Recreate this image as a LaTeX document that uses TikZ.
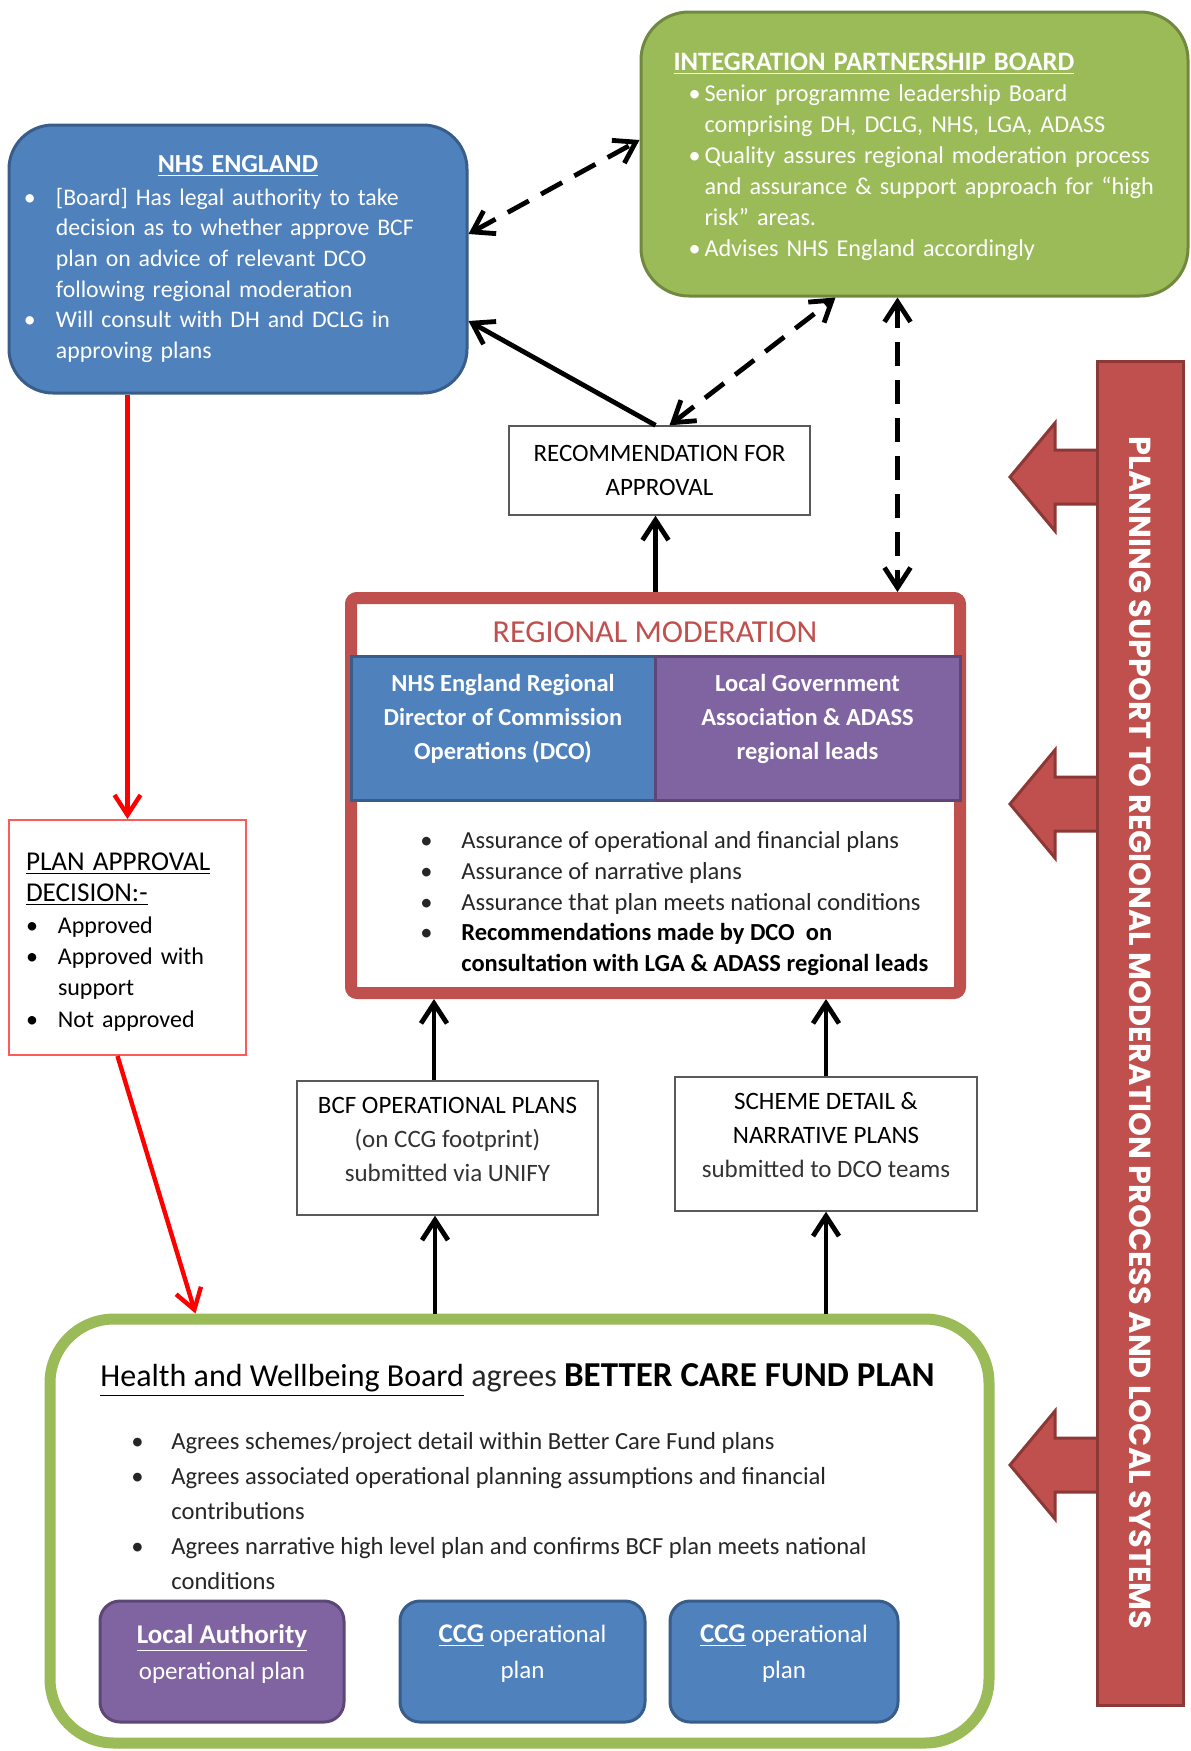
\documentclass[tikz,border=0pt]{standalone}
\usepackage{fontspec}
\setmainfont{Carlito}
\newfontfamily\barfont{Poppins}
\usetikzlibrary{arrows.meta}

\definecolor{nhsblue}{HTML}{4F81BD}
\definecolor{nhsblueline}{HTML}{385D8A}
\definecolor{ipbgreen}{HTML}{9BBB59}
\definecolor{ipbgreenline}{HTML}{71893F}
\definecolor{modred}{HTML}{C0504D}
\definecolor{modredline}{HTML}{8C3836}
\definecolor{lgapurple}{HTML}{8064A2}
\definecolor{lgapurpleline}{HTML}{5C4776}
\definecolor{padred}{HTML}{FF5A5A}

\newcommand{\bul}[1]{\makebox[#1][l]{\textbullet}}

\begin{document}
\begin{tikzpicture}[x=0.5pt,y=-0.5pt,
	bluebox/.style={draw=nhsblueline, fill=nhsblue, line width=1.5pt, rounded corners=22pt, text=white},
	greenbox/.style={draw=ipbgreenline, fill=ipbgreen, line width=1.5pt, rounded corners=24pt, text=white},
	plainbox/.style={draw=black!65, line width=0.7pt, fill=white, align=center, font=\fontsize{12.5}{17}\selectfont},
	subbox/.style={line width=1.5pt, minimum width=152pt, minimum height=72pt, align=center, text=white, font=\fontsize{12.25}{17}\selectfont\bfseries},
	plan/.style={line width=1.5pt, rounded corners=10pt, minimum height=60.5pt, align=center, text=white, font=\fontsize{12.5}{18}\selectfont},
	link/.style={line width=2.4pt, -{Straight Barb[length=10pt,width=13pt]}},
	both/.style={link, {Straight Barb[length=10pt,width=13pt]}-{Straight Barb[length=10pt,width=13pt]}, dash pattern=on 12pt off 7pt},
	redlink/.style={link, red, line width=2.2pt},
	]
\fill[white] (0,0) rectangle (1190,1751);
\useasboundingbox (0,0) rectangle (1190,1751);

% top boards
\node[bluebox, minimum width=229pt, minimum height=134pt, text width=214pt, align=left, font=\fontsize{11.9}{15.3}\selectfont] (nhs) at (238,259)
	{\makebox[\hsize]{\bfseries\fontsize{13}{15}\selectfont\underline{NHS ENGLAND}}\\[1pt]
	\bul{16pt}[Board] Has legal authority to take\\
	\hspace*{16pt}decision as to whether approve BCF\\
	\hspace*{16pt}plan on advice of relevant DCO\\
	\hspace*{16pt}following regional moderation\\
	\bul{16pt}Will consult with DH and DCLG in\\
	\hspace*{16pt}approving plans};
\node[greenbox, minimum width=273.5pt, minimum height=142pt, text width=241pt, align=left, font=\fontsize{12.1}{15.5}\selectfont] (ipb) at (914.5,154)
	{\rule{0pt}{11.5pt}{\bfseries\fontsize{13.3}{15}\selectfont\underline{INTEGRATION PARTNERSHIP BOARD}}\\
	\hspace*{7.5pt}\bul{8pt}Senior programme leadership Board\\
	\hspace*{15.5pt}comprising DH, DCLG, NHS, LGA, ADASS\\
	\hspace*{7.5pt}\bul{8pt}Quality assures regional moderation process\\
	\hspace*{15.5pt}and assurance \& support approach for “high\\
	\hspace*{15.5pt}risk” areas.\\
	\hspace*{7.5pt}\bul{8pt}Advises NHS England accordingly};

\node[plainbox, minimum width=150.5pt, minimum height=44.5pt] (rec) at (659.5,470.5) {RECOMMENDATION FOR\\APPROVAL};

% regional moderation
\node[draw=modred, fill=white, line width=6pt, rounded corners=3pt, minimum width=304.5pt, minimum height=197.5pt] (rm) at (655.5,795.5) {};
\node[text=modred, font=\fontsize{16}{18}\selectfont] (rmtitle) at (655,632) {REGIONAL MODERATION};
\node[subbox, draw=nhsblueline, fill=nhsblue] (dco) at (503,728) {NHS England Regional\\Director of Commission\\Operations (DCO)\\[-6pt]\mbox{}};
\node[subbox, draw=lgapurpleline, fill=lgapurple, minimum width=152.5pt] (lga) at (807.5,728) {Local Government\\Association \& ADASS\\regional leads\\[-6pt]\mbox{}};
\node[anchor=north west, align=left, inner sep=0pt, text=black!85, font=\fontsize{12.25}{15.4}\selectfont] (rmlist) at (420,831)
	{\bul{20.5pt}Assurance of operational and financial plans\\
	\bul{20.5pt}Assurance of narrative plans\\
	\bul{20.5pt}Assurance that plan meets national conditions\\
	\bul{20.5pt}\textcolor{black}{\bfseries Recommendations made by DCO\ \ on}\\
	\hspace*{20.5pt}\textcolor{black}{\bfseries consultation with LGA \& ADASS regional leads}};

\node[draw=padred, line width=1pt, minimum width=118.5pt, minimum height=117.5pt, text width=101.5pt, align=left, font=\fontsize{12}{15.7}\selectfont] (pad) at (127.5,937.5)
	{\rule{0pt}{13.3pt}{\fontsize{13.6}{15}\selectfont\underline{PLAN APPROVAL}}\\
	{\fontsize{13.6}{15}\selectfont\underline{DECISION:-}}\\
	\bul{16pt}Approved\\
	\bul{16pt}Approved with\\
	\hspace*{16pt}support\\
	\bul{16pt}Not approved};

\node[plainbox, minimum width=150.5pt, minimum height=67pt] (bcf) at (447.5,1148) {BCF OPERATIONAL PLANS\\\textcolor{black!80}{(on CCG footprint)}\\\textcolor{black!80}{submitted via UNIFY}\\[-8pt]\mbox{}};
\node[plainbox, minimum width=151pt, minimum height=67pt] (sch) at (826,1144) {SCHEME DETAIL \&\\NARRATIVE PLANS\\\textcolor{black!80}{submitted to DCO teams}\\[-8pt]\mbox{}};

% health and wellbeing board
\node[draw=ipbgreen, fill=white, line width=5.5pt, rounded corners=32pt, minimum width=469.5pt, minimum height=212pt] (hwb) at (519.5,1531) {};
\node[anchor=west, inner sep=0pt, font=\fontsize{16}{18}\selectfont] (hwbtitle) at (100,1380)
	{\underline{Health and Wellbeing Board} \textcolor{black!85}{agrees} {\bfseries\fontsize{17.5}{18}\selectfont BETTER CARE FUND PLAN}};
\node[anchor=north west, align=left, inner sep=0pt, text=black!85, font=\fontsize{12.3}{17.5}\selectfont] (hwblist) at (131,1432)
	{\bul{20pt}Agrees schemes/project detail within Better Care Fund plans\\
	\bul{20pt}Agrees associated operational planning assumptions and financial\\
	\hspace*{20pt}contributions\\
	\bul{20pt}Agrees narrative high level plan and confirms BCF plan meets national\\
	\hspace*{20pt}conditions};
\node[plan, draw=lgapurpleline, fill=lgapurple, minimum width=122pt] (la) at (222,1661.5) {{\bfseries\fontsize{13.5}{18}\selectfont\underline{Local Authority}}\\operational plan\\[-8.5pt]\mbox{}};
\node[plan, draw=nhsblueline, fill=nhsblue, minimum width=122.5pt] (ccga) at (522.5,1661.5) {{\bfseries\fontsize{13.5}{18}\selectfont\underline{CCG}} operational\\plan\\[-8.5pt]\mbox{}};
\node[plan, draw=nhsblueline, fill=nhsblue, minimum width=114pt] (ccgb) at (784,1661.5) {{\bfseries\fontsize{13.5}{18}\selectfont\underline{CCG}} operational\\plan\\[-8.5pt]\mbox{}};

% planning support bar
\foreach \y in {477,804,1465}
	\draw[draw=modredline, fill=modred, line width=1.5pt]
		(1100,{\y-27}) -- (1055,{\y-27}) -- (1055,{\y-54}) -- (1010,\y) -- (1055,{\y+54}) -- (1055,{\y+27}) -- (1100,{\y+27});
\node[draw=modredline, fill=modred, line width=1.5pt, rotate=-90, minimum width=672pt, minimum height=43pt, text=white, font=\barfont\bfseries\fontsize{15.2}{15}\selectfont] (bar) at (1140,1033)
	{PLANNING SUPPORT TO REGIONAL MODERATION PROCESS AND LOCAL SYSTEMS};

% connectors
\draw[both] ([yshift=12.5pt]nhs.east) -- ([yshift=7pt]ipb.west);
\draw[link] ([xshift=-2pt]rec.north) -- ([yshift=-31pt]nhs.east);
\draw[both] ([xshift=5pt]rec.north) -- ([xshift=-39.5pt]ipb.south);
\draw[both] ([xshift=-8.5pt]ipb.south) -- ([xshift=-8.5pt]ipb.south |- rm.north);
\draw[link] (rm.north) -- (rm.north |- rec.south);
\draw[redlink] (pad.north |- nhs.south) -- (pad.north);
\draw[redlink] ([xshift=-5pt]pad.south) -- ([xshift=-162pt]hwb.north);
\draw[link] ([xshift=-6.75pt]bcf.north) -- ([xshift=-6.75pt]bcf.north |- rm.south);
\draw[link] (sch.north) -- (sch.north |- rm.south);
\draw[link] ([xshift=-6.25pt]bcf.south |- hwb.north) -- ([xshift=-6.25pt]bcf.south);
\draw[link] (sch.south |- hwb.north) -- (sch.south);
\end{tikzpicture}
\end{document}
